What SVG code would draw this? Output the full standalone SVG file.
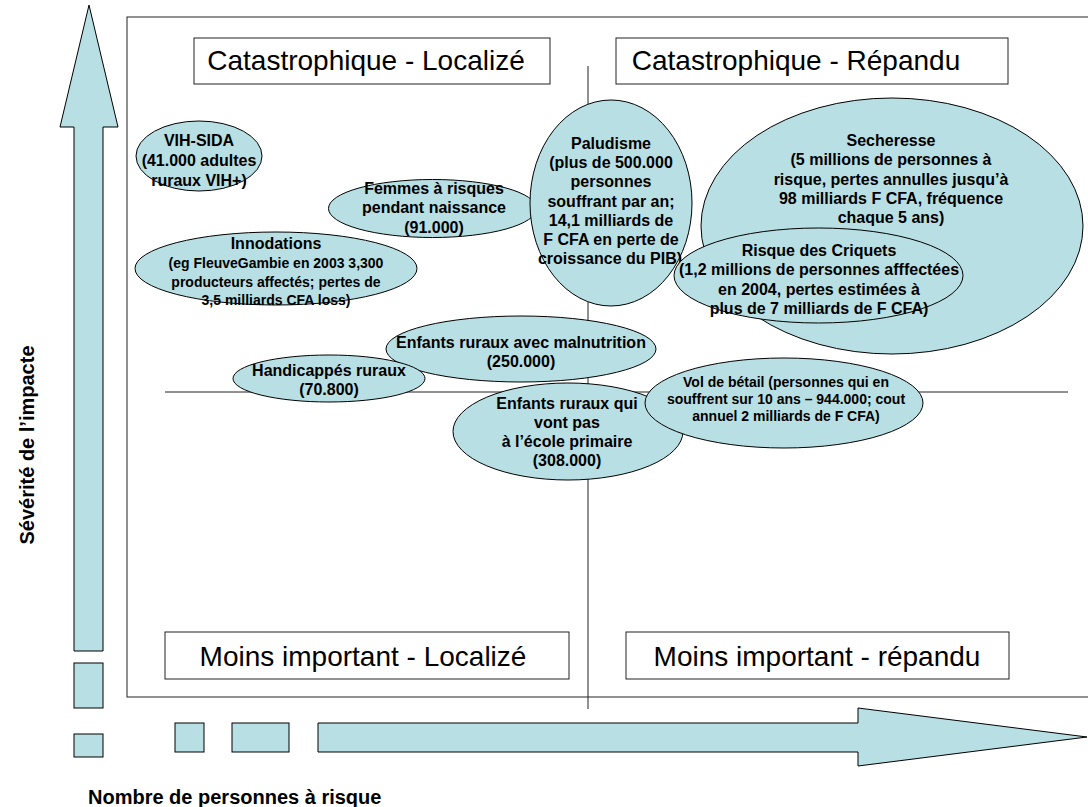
<svg xmlns="http://www.w3.org/2000/svg" width="1088" height="807" viewBox="0 0 1088 807">
<style>
  .bub { fill: #b8dfe3; stroke: #000; stroke-width: 1; }
  .ax { fill: #b8dfe3; stroke: #000; stroke-width: 1; }
  .box { fill: #fff; stroke: #222; stroke-width: 1; }
  .lbl { font-family: "Liberation Sans", Arial, sans-serif; font-size: 28px; fill: #000; text-anchor: middle; }
  .t { font-family: "Liberation Sans", Arial, sans-serif; font-weight: bold; font-size: 16px; fill: #000; text-anchor: middle; }
  .s { font-size: 14px; }
  .axt { font-family: "Liberation Sans", Arial, sans-serif; font-weight: bold; fill: #000; }
  .ln { stroke: #222; stroke-width: 1; fill: none; }
</style>
<rect width="1088" height="807" fill="#fff"/>

<g id="axes">
  <polygon class="ax" points="89,5 118,127 103,127 103,651 74,651 74,127 60,127"/>
  <rect class="ax" x="74" y="663" width="29" height="45"/>
  <rect class="ax" x="74" y="734" width="29" height="23"/>
  <rect class="ax" x="175" y="723" width="29" height="29"/>
  <rect class="ax" x="232" y="723" width="57" height="29"/>
  <polygon class="ax" points="318,723 858,723 858,708 1087,737 858,766 858,752 318,752"/>
  <text class="axt" font-size="20" transform="translate(34,445) rotate(-90)" text-anchor="middle">Sévérité de l’impacte</text>
  <text class="axt" font-size="20" x="88" y="804">Nombre de personnes à risque</text>
</g>

<g id="frame">
  <rect class="ln" x="127" y="17" width="1000" height="680"/>
</g>

<g id="connectors">
  <line class="ln" x1="588" y1="66" x2="588" y2="709"/>
  <line class="ln" x1="165" y1="392" x2="1068" y2="392"/>
</g>

<g id="q-cat-loc">
  <rect class="box" x="194" y="38" width="356" height="46"/>
  <text class="lbl" x="366" y="70">Catastrophique - Localizé</text>
</g>
<g id="q-cat-rep">
  <rect class="box" x="616" y="38" width="392" height="46"/>
  <text class="lbl" x="796" y="70">Catastrophique - Répandu</text>
</g>
<g id="q-moins-loc">
  <rect class="box" x="165" y="632" width="404" height="47"/>
  <text class="lbl" x="363" y="666">Moins important - Localizé</text>
</g>
<g id="q-moins-rep">
  <rect class="box" x="626" y="632" width="383" height="47"/>
  <text class="lbl" x="817" y="666">Moins important - répandu</text>
</g>

<g id="vih">
  <ellipse class="bub" cx="199" cy="156" rx="63" ry="35"/>
  <text class="t" x="199" y="146">VIH-SIDA</text>
  <text class="t" x="199" y="166">(41.000 adultes</text>
  <text class="t" x="199" y="186">ruraux VIH+)</text>
</g>
<g id="femmes">
  <ellipse class="bub" cx="432.5" cy="208.5" rx="104" ry="29"/>
  <text class="t" x="434" y="194">Femmes à risques</text>
  <text class="t" x="434" y="213">pendant naissance</text>
  <text class="t" x="434" y="233">(91.000)</text>
</g>
<g id="innodations">
  <ellipse class="bub" cx="276" cy="268.5" rx="141" ry="36.5"/>
  <text class="t" x="276" y="249">Innodations</text>
  <text class="t s" x="276" y="268">(eg FleuveGambie en 2003 3,300</text>
  <text class="t s" x="276" y="286.5">producteurs affectés; pertes de</text>
  <text class="t s" x="276" y="305">3,5 milliards CFA loss)</text>
</g>
<g id="secheresse">
  <ellipse class="bub" cx="892" cy="226" rx="191" ry="128"/>
  <text class="t" x="891" y="146">Secheresse</text>
  <text class="t" x="891" y="165.3">(5 millions de personnes à</text>
  <text class="t" x="891" y="184.6">risque, pertes annulles jusqu’à</text>
  <text class="t" x="891" y="203.9">98 milliards F CFA, fréquence</text>
  <text class="t" x="891" y="223.2">chaque 5 ans)</text>
</g>
<g id="paludisme">
  <ellipse class="bub" cx="611" cy="203" rx="81" ry="103"/>
  <text class="t" x="611" y="149">Paludisme</text>
  <text class="t" x="611" y="168.2">(plus de 500.000</text>
  <text class="t" x="611" y="187.4">personnes</text>
  <text class="t" x="611" y="206.6">souffrant par an;</text>
  <text class="t" x="611" y="225.8">14,1 milliards de</text>
  <text class="t" x="611" y="245">F CFA en perte de</text>
  <text class="t" x="610" y="264.2">croissance du PIB)</text>
</g>
<g id="criquets">
  <ellipse class="bub" cx="818.5" cy="275.5" rx="144.5" ry="47.5"/>
  <text class="t" x="819" y="256">Risque des Criquets</text>
  <text class="t" x="819" y="275.3">(1,2 millions de personnes afffectées</text>
  <text class="t" x="819" y="294.6">en 2004, pertes estimées à</text>
  <text class="t" x="819" y="313.9">plus de 7 milliards de F CFA)</text>
</g>
<g id="malnutrition">
  <ellipse class="bub" cx="521" cy="349" rx="135" ry="33"/>
  <text class="t" x="521" y="347.5">Enfants ruraux avec malnutrition</text>
  <text class="t" x="521" y="366.5">(250.000)</text>
</g>
<g id="handicapes">
  <ellipse class="bub" cx="329" cy="378.5" rx="96" ry="23.5"/>
  <text class="t" x="329" y="376">Handicappés ruraux</text>
  <text class="t" x="329" y="395">(70.800)</text>
</g>
<g id="ecole">
  <ellipse class="bub" cx="568" cy="431.5" rx="115" ry="48.5"/>
  <text class="t" x="567" y="408.5">Enfants ruraux qui</text>
  <text class="t" x="567" y="427.7">vont pas</text>
  <text class="t" x="567" y="447">à l’école primaire</text>
  <text class="t" x="567" y="466.2">(308.000)</text>
</g>
<g id="vol">
  <ellipse class="bub" cx="784" cy="403" rx="139" ry="45"/>
  <text class="t s" x="786" y="387">Vol de bétail (personnes qui en</text>
  <text class="t s" x="786" y="404">souffrent sur 10 ans – 944.000; cout</text>
  <text class="t s" x="786" y="421">annuel 2 milliards de F CFA)</text>
</g>
</svg>
